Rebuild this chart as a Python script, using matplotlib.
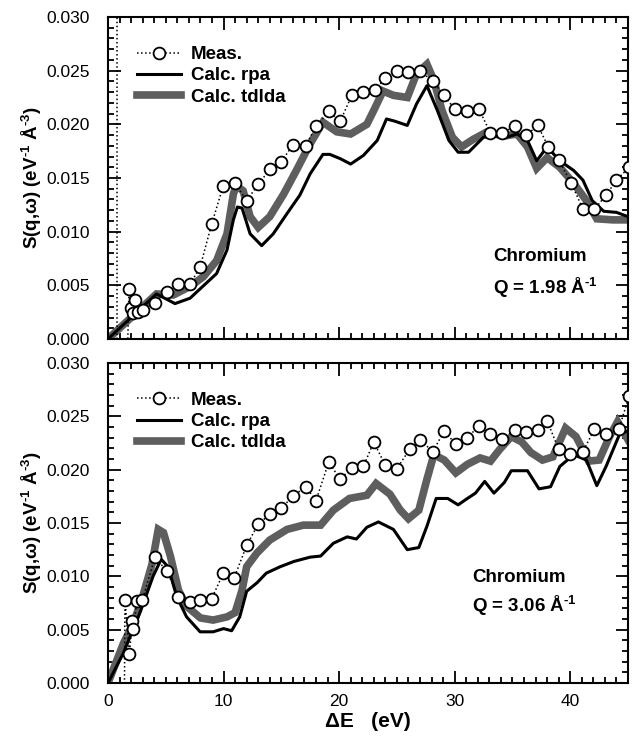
import matplotlib
matplotlib.use("Agg")
import matplotlib.pyplot as plt
from matplotlib.ticker import MultipleLocator

plt.rcParams['font.family'] = ['Liberation Sans', 'DejaVu Sans']
plt.rcParams['mathtext.fontset'] = 'custom'
plt.rcParams['mathtext.rm'] = 'Liberation Sans:bold'
plt.rcParams['mathtext.bf'] = 'Liberation Sans:bold'
plt.rcParams['mathtext.it'] = 'Liberation Sans:bold:italic'
plt.rcParams['mathtext.default'] = 'rm'

# ---------------- top panel: Q = 1.98 1/A ----------------
top_meas_E = [1.65, 1.82, 1.96, 2.19, 2.34, 2.62, 3.06, 4.1, 5.08, 6.09, 7.1, 7.97, 8.97, 9.98,
              11.0, 12.0, 13.0, 14.0, 15.0, 16.0, 17.1, 18.0, 19.1, 20.1, 21.1, 22.1, 23.1,
              24.0, 25.0, 26.0, 27.0, 28.1, 29.1, 30.0, 31.1, 32.1, 33.1, 34.1, 35.2, 36.2,
              37.2, 38.1, 39.0, 40.1, 41.1, 42.1, 43.1, 44.0, 45.1]
top_meas_S = [-0.003, 0.0047, 0.0029, 0.0024, 0.0036, 0.0025, 0.0027, 0.0034, 0.0044, 0.0051,
              0.0051, 0.0067, 0.0107, 0.0143, 0.0145, 0.0129, 0.0144, 0.0158, 0.0165, 0.0181,
              0.0180, 0.0198, 0.0212, 0.0203, 0.0227, 0.0230, 0.0232, 0.0243, 0.0250, 0.0249,
              0.0250, 0.0240, 0.0227, 0.0214, 0.0212, 0.0214, 0.0192, 0.0192, 0.0198, 0.0190,
              0.0199, 0.0179, 0.0167, 0.0145, 0.0121, 0.0121, 0.0134, 0.0148, 0.0160]

top_rpa_E = [0.0, 4.2, 5.8, 7.1, 8.2, 9.4, 10.3, 10.85, 11.2, 11.6, 12.3, 13.3, 14.3, 15.5,
             16.6, 17.5, 18.6, 19.2, 20.1, 21.0, 22.1, 23.3, 24.1, 24.8, 25.9, 26.7, 27.6,
             28.5, 29.5, 30.3, 31.2, 32.5, 33.7, 34.5, 35.4, 36.3, 37.1, 38.0, 39.1, 40.3,
             41.1, 41.9, 42.9, 44.0, 45.0]
top_rpa_S = [0.0, 0.0042, 0.0033, 0.0038, 0.0049, 0.0061, 0.0083, 0.0111, 0.0123, 0.0122,
             0.0098, 0.0087, 0.0098, 0.0117, 0.0134, 0.0154, 0.0172, 0.0172, 0.0168, 0.0163,
             0.0171, 0.0185, 0.0205, 0.0203, 0.0199, 0.0219, 0.0236, 0.0213, 0.0185, 0.0174,
             0.0174, 0.0188, 0.0189, 0.0188, 0.0191, 0.0185, 0.0166, 0.0179, 0.0166, 0.0157,
             0.0148, 0.0129, 0.0119, 0.0118, 0.0114]

top_tdlda_E = [0.0, 4.2, 5.65, 7.1, 8.25, 9.4, 10.3, 10.85, 11.1, 11.7, 12.3, 13.0, 14.0,
               15.2, 16.3, 17.5, 18.6, 19.8, 21.0, 22.4, 23.0, 23.8, 24.7, 25.9, 26.7, 27.6,
               28.2, 28.9, 29.8, 30.6, 31.6, 32.8, 34.2, 35.4, 36.3, 37.1, 38.0, 39.1, 40.3,
               41.4, 42.3, 43.7, 44.9]
top_tdlda_S = [0.0, 0.0042, 0.0041, 0.0049, 0.0058, 0.0073, 0.0098, 0.0135, 0.0143, 0.0138,
               0.0114, 0.0104, 0.0114, 0.0135, 0.0157, 0.0182, 0.0202, 0.0193, 0.0191, 0.0200,
               0.0213, 0.0231, 0.0227, 0.0225, 0.0247, 0.0256, 0.0241, 0.0213, 0.0188, 0.0179,
               0.0186, 0.0193, 0.0189, 0.0191, 0.0179, 0.0159, 0.0169, 0.0160, 0.0145, 0.0129,
               0.0112, 0.0111, 0.0111]
top_elastic_E = [0.8]

# ---------------- bottom panel: Q = 3.06 1/A ----------------
bot_meas_E = [1.4, 1.47, 1.85, 2.1, 2.2, 2.5, 2.98, 4.07, 5.08, 6.09, 7.1, 7.97, 8.97, 9.98,
              10.9, 12.0, 13.0, 14.0, 15.0, 16.0, 17.1, 18.0, 19.1, 20.1, 21.1, 22.1, 23.0,
              24.0, 25.0, 26.1, 27.0, 28.1, 29.1, 30.1, 31.1, 32.1, 33.1, 34.1, 35.2, 36.2,
              37.2, 38.0, 39.0, 40.0, 41.1, 42.1, 43.1, 44.2, 45.1]
bot_meas_S = [-0.005, 0.0078, 0.0027, 0.0058, 0.0051, 0.0077, 0.0078, 0.0118, 0.0105, 0.0081,
              0.0076, 0.0078, 0.0079, 0.0103, 0.0098, 0.0129, 0.0149, 0.0158, 0.0164, 0.0175,
              0.0184, 0.0171, 0.0207, 0.0191, 0.0202, 0.0203, 0.0226, 0.0204, 0.0201, 0.0219,
              0.0228, 0.0217, 0.0236, 0.0224, 0.0230, 0.0241, 0.0233, 0.0229, 0.0237, 0.0235,
              0.0237, 0.0246, 0.0219, 0.0215, 0.0217, 0.0238, 0.0233, 0.0238, 0.0269]

bot_rpa_E = [0.0, 1.33, 2.77, 3.9, 4.6, 5.2, 5.95, 6.8, 7.97, 9.1, 10.0, 10.7, 11.4, 12.0,
             12.9, 13.7, 14.9, 16.1, 17.5, 18.4, 19.5, 20.7, 21.5, 22.4, 23.4, 24.7, 25.9,
             26.9, 27.6, 28.4, 29.4, 30.3, 31.1, 31.8, 32.6, 33.4, 34.3, 34.9, 36.3, 37.3,
             38.3, 39.1, 40.3, 41.4, 42.3, 43.1, 44.3, 45.0]
bot_rpa_S = [0.0, 0.0028, 0.0066, 0.0100, 0.0116, 0.0109, 0.0081, 0.0062, 0.0048, 0.0048,
             0.0051, 0.0049, 0.0062, 0.0086, 0.0094, 0.0103, 0.0109, 0.0114, 0.0118, 0.0119,
             0.0131, 0.0137, 0.0135, 0.0146, 0.0151, 0.0144, 0.0125, 0.0127, 0.0147, 0.0173,
             0.0173, 0.0167, 0.0173, 0.0178, 0.0189, 0.0178, 0.0188, 0.0199, 0.0199, 0.0182,
             0.0184, 0.0203, 0.0214, 0.0209, 0.0185, 0.0203, 0.0234, 0.0236]

bot_tdlda_E = [0.0, 1.33, 2.2, 3.0, 3.8, 4.35, 4.8, 5.4, 6.1, 6.8, 8.0, 9.1, 10.3, 11.0, 11.6,
               12.0, 12.9, 14.0, 15.5, 16.9, 18.4, 19.5, 20.9, 22.4, 23.2, 24.4, 25.3, 26.0,
               26.9, 27.6, 28.2, 29.1, 30.1, 31.1, 32.2, 33.1, 33.9, 34.9, 35.8, 36.6, 37.6,
               38.5, 39.6, 40.5, 41.6, 42.5, 43.4, 44.1, 45.0]
bot_tdlda_S = [0.0, 0.0037, 0.0056, 0.0081, 0.0111, 0.0144, 0.0141, 0.0119, 0.0087, 0.0072,
               0.0061, 0.0059, 0.0062, 0.0066, 0.0087, 0.0109, 0.0122, 0.0134, 0.0144, 0.0148,
               0.0148, 0.0162, 0.0173, 0.0176, 0.0187, 0.0177, 0.0162, 0.0154, 0.0162, 0.0191,
               0.0214, 0.0209, 0.0197, 0.0205, 0.0211, 0.0208, 0.0219, 0.0231, 0.0226, 0.0216,
               0.0209, 0.0212, 0.0239, 0.0231, 0.0208, 0.0209, 0.0231, 0.0245, 0.0228]

labels = ["Meas.", "Calc. rpa", "Calc. tdlda"]
panel_text = [("Chromium", r"Q = 1.98 Å$^{\text{-1}}$"),
              ("Chromium", r"Q = 3.06 Å$^{\text{-1}}$")]
ylabel_text = r"S(q,$\omega$) (eV$^{\text{-1}}$ Å$^{\text{-3}}$)"

fig = plt.figure(figsize=(6.42, 7.42), dpi=100)
ax1 = fig.add_axes([0.1682, 0.5431, 0.810, 0.434])
ax2 = fig.add_axes([0.1682, 0.0795, 0.810, 0.4313])

gray = '#5e5e5e'

def draw(ax, mE, mS, rE, rS, tE, tS):
    ax.plot(tE, tS, color=gray, lw=5.5, solid_joinstyle='miter', zorder=2, label=labels[2])
    ax.plot(rE, rS, color='black', lw=2.2, zorder=3, label=labels[1])
    ax.plot(mE, mS, color='black', ls=':', lw=1.1, marker='o', ms=8.5, mfc='white',
            mec='black', mew=1.3, zorder=4, label=labels[0])
    ax.set_xlim(0, 45)
    ax.set_ylim(0, 0.030)
    ax.xaxis.set_major_locator(MultipleLocator(10))
    ax.xaxis.set_minor_locator(MultipleLocator(1))
    ax.yaxis.set_major_locator(MultipleLocator(0.005))
    ax.yaxis.set_minor_locator(MultipleLocator(0.001))
    ax.tick_params(which='both', direction='in', top=True, right=True, width=1.3)
    ax.tick_params(which='major', length=9, labelsize=12.5)
    ax.tick_params(axis='y', which='major', pad=13)
    ax.tick_params(axis='x', which='major', pad=8)
    ax.tick_params(which='minor', length=4.5)
    ax.yaxis.set_major_formatter(matplotlib.ticker.FormatStrFormatter('%.3f'))
    for s in ax.spines.values():
        s.set_linewidth(1.5)
    h, l = ax.get_legend_handles_labels()
    order = [2, 1, 0]
    ax.legend([h[i] for i in order], [l[i] for i in order], loc='upper left',
              bbox_to_anchor=(0.035, 0.945), frameon=False,
              prop={'weight': 'bold', 'size': 13.5}, handlelength=2.3,
              handletextpad=0.55, labelspacing=0.22, borderaxespad=0.2)
    ax.set_ylabel(ylabel_text, fontsize=13.5, fontweight='bold', labelpad=2)

draw(ax1, top_meas_E, top_meas_S, top_rpa_E, top_rpa_S, top_tdlda_E, top_tdlda_S)
for e in top_elastic_E:
    ax1.axvline(e, color='black', ls=':', lw=1.1, zorder=4)
ax1.tick_params(labelbottom=False)

draw(ax2, bot_meas_E, bot_meas_S, bot_rpa_E, bot_rpa_S, bot_tdlda_E, bot_tdlda_S)
ax2.set_xlabel("ΔE   (eV)", fontsize=15, fontweight='bold', labelpad=2)

ax1.text(0.74, 0.255, panel_text[0][0], transform=ax1.transAxes, fontsize=13.5,
         fontweight='bold', ha='left', va='center')
ax1.text(0.74, 0.16, panel_text[0][1], transform=ax1.transAxes, fontsize=13.5,
         fontweight='bold', ha='left', va='center')
ax2.text(0.70, 0.33, panel_text[1][0], transform=ax2.transAxes, fontsize=13.5,
         fontweight='bold', ha='left', va='center')
ax2.text(0.70, 0.24, panel_text[1][1], transform=ax2.transAxes, fontsize=13.5,
         fontweight='bold', ha='left', va='center')

fig.savefig("out.png", dpi=100)
